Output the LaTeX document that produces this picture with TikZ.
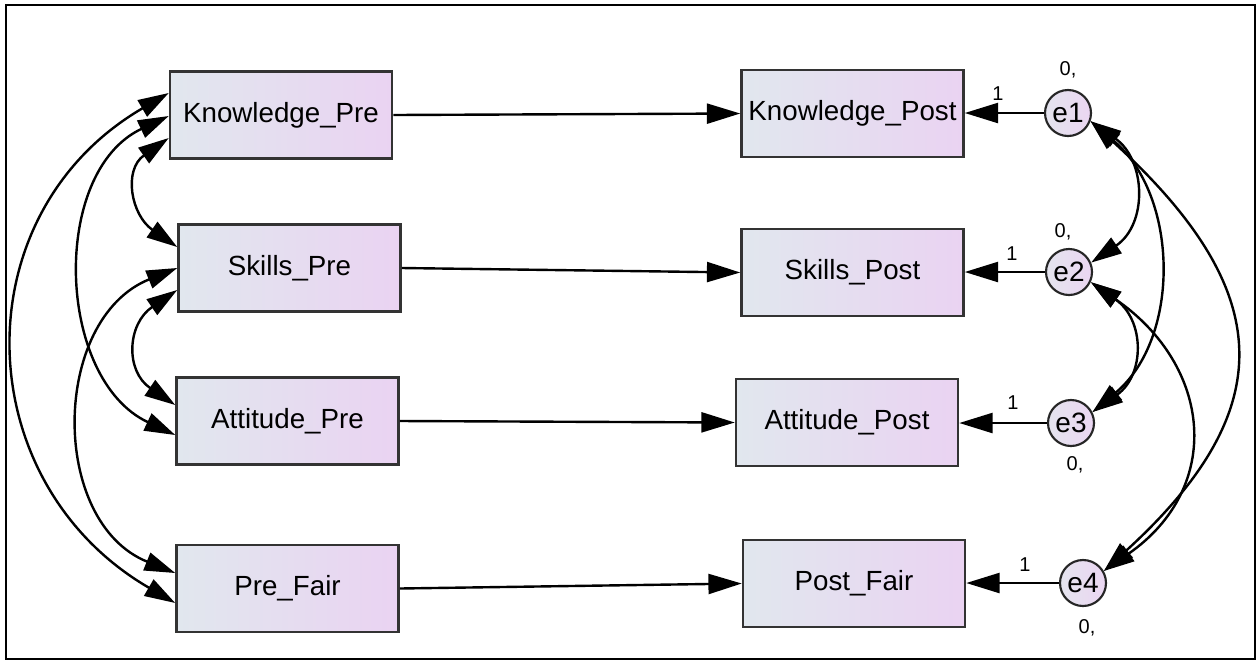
\documentclass[tikz,border=0pt]{standalone}
\usepackage{fontspec}
\setmainfont{Liberation Sans}
\usetikzlibrary{arrows.meta,calc}
\definecolor{boxL}{HTML}{E1E7EE}
\definecolor{boxR}{HTML}{EAD3F2}
\definecolor{cirL}{HTML}{E4E4EE}
\definecolor{cirR}{HTML}{EBD6F2}
\begin{document}
\begin{tikzpicture}[x=0.75pt,y=0.75pt,
  varbox/.style={draw=black!80, line width=1.9pt, left color=boxL, right color=boxR,
    minimum width=166.5pt, minimum height=65pt, inner sep=0pt,
    font=\fontsize{20.8}{24}\selectfont},
  errc/.style={circle, draw=black!85, line width=1.6pt, left color=cirL, right color=cirR,
    minimum size=34.5pt, inner sep=0pt, font=\fontsize{21}{24}\selectfont},
  conn/.style={line width=1.8pt, -{Triangle[length=25pt,width=15pt]}},
  cov/.style={line width=1.8pt, {Triangle[length=23pt,width=14pt]}-{Triangle[length=23pt,width=14pt]}},
  numlbl/.style={font=\fontsize{15}{17}\selectfont, inner sep=0pt}
]
\useasboundingbox (0,0) rectangle (1260,-662);
\draw[line width=2.2pt] (6,-5) rectangle (1255,-659);

% observed variables
\node[varbox] (KPre) at (281,-115) {Knowledge\_Pre};
\node[varbox] (SPre) at (289.5,-268) {Skills\_Pre};
\node[varbox] (APre) at (287.5,-421) {Attitude\_Pre};
\node[varbox] (FPre) at (287.5,-588.5) {Pre\_Fair};
\node[varbox] (KPost) at (852.5,-113.5) {Knowledge\_Post};
\node[varbox] (SPost) at (852.5,-272.5) {Skills\_Post};
\node[varbox] (APost) at (847,-422.5) {Attitude\_Post};
\node[varbox] (FPost) at (854,-583.5) {Post\_Fair};

% error terms
\node[errc] (e1) at (1068,-113) {e1};
\node[errc] (e2) at (1069,-272) {e2};
\node[errc] (e3) at (1071,-423) {e3};
\node[errc] (e4) at (1083,-583) {e4};

% labels
\node[numlbl] (v1) at (1068,-70) {0,};
\node[numlbl] (v2) at (1063,-232) {0,};
\node[numlbl] (v3) at (1075,-465) {0,};
\node[numlbl] (v4) at (1087,-628) {0,};
\node[numlbl] (w1) at (998,-94) {1};
\node[numlbl] (w2) at (1012,-254) {1};
\node[numlbl] (w3) at (1013,-403) {1};
\node[numlbl] (w4) at (1025,-565) {1};

% regression paths
\draw[conn] (KPre.east) -- (KPost.west);
\draw[conn] (SPre.east) -- (SPost.west);
\draw[conn] (APre.east) -- (APost.west);
\draw[conn] (FPre.east) -- (FPost.west);
\draw[conn] (e1.west) -- (KPost.east|-e1.west);
\draw[conn] (e2.west) -- (SPost.east|-e2.west);
\draw[conn] (e3.west) -- (APost.east|-e3.west);
\draw[conn] (e4.west) -- (FPost.east|-e4.west);

% covariances left
\draw[cov] ($(KPre.west)+(0,22)$) .. controls (-39,-214) and (-33,-482) .. ($(FPre.west)+(0,-14.5)$);
\draw[cov] ($(KPre.west)+(0,-1)$) .. controls (50,-172) and (56,-379) .. ($(APre.west)+(0,-14)$);
\draw[cov] (SPre.west) .. controls (51,-319) and (49,-522) .. ($(FPre.west)+(0,15.5)$);
\draw[cov] ($(SPre.west)+(0,-22)$) .. controls (127,-324) and (125,-371) .. ($(APre.west)+(0,16)$);
\draw[cov] ($(KPre.west)+(0,-23)$) .. controls (123,-170) and (131,-215) .. ($(SPre.west)+(0,21)$);

% covariances right
\draw[cov] (e1.-20) .. controls (1146,-160) and (1148,-224) .. (e2.23);
\draw[cov] (e1.-20) .. controls (1179,-196) and (1181,-338) .. (e3.27);
\draw[cov] (e1.-20) .. controls (1272,-287) and (1286,-405) .. (e4.30);
\draw[cov] (e2.-25) .. controls (1145,-320) and (1145,-375) .. (e3.27);
\draw[cov] (e2.-25) .. controls (1212,-366) and (1224,-487) .. (e4.30);
\end{tikzpicture}
\end{document}
